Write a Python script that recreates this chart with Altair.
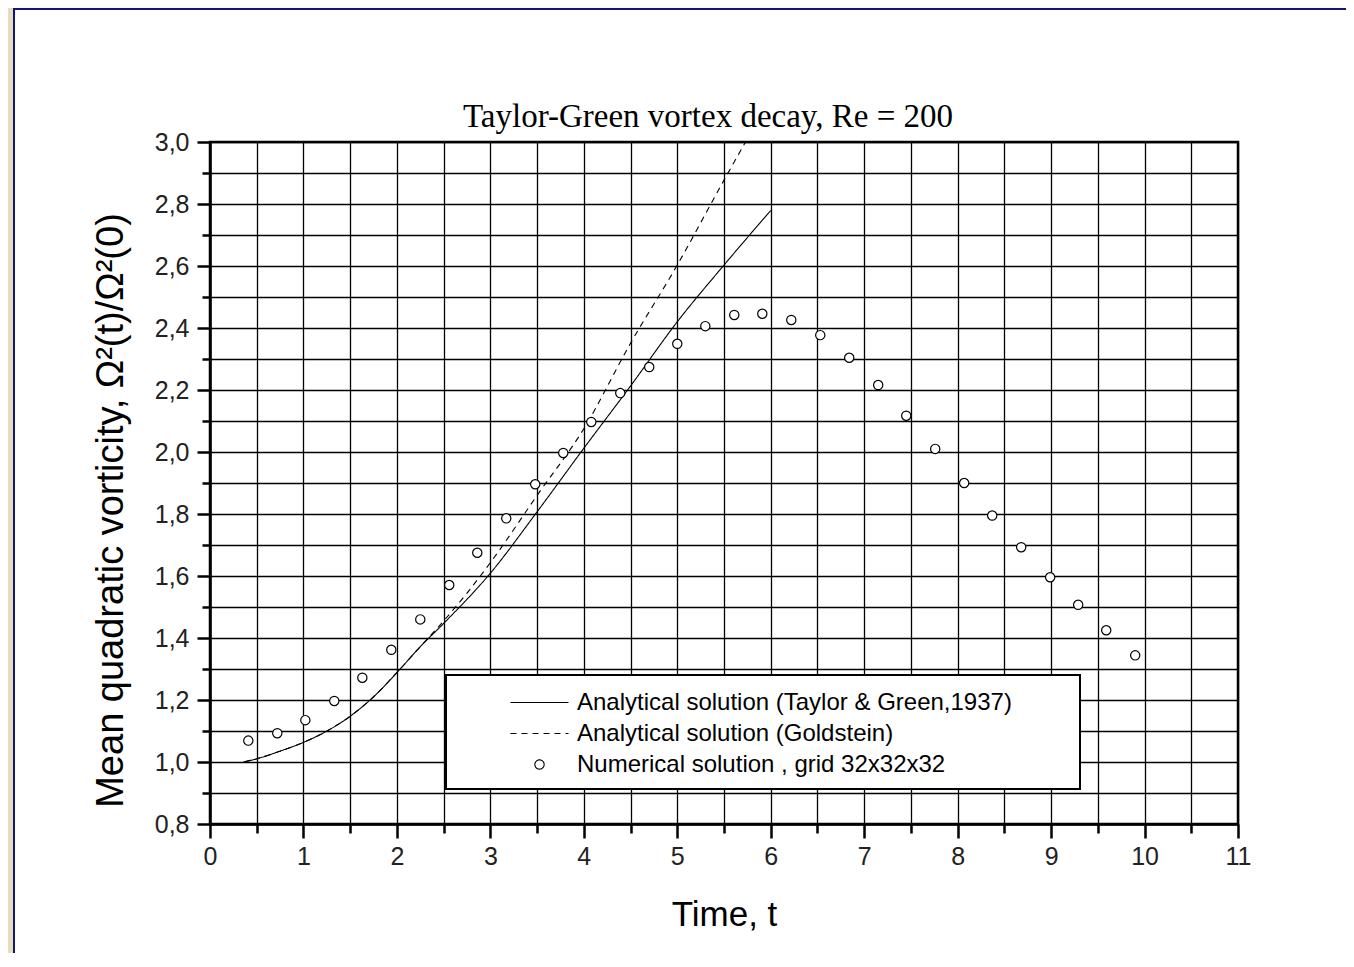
import altair as alt
import pandas as pd

TITLE = "Taylor-Green vortex decay, Re = 200"
X_TITLE = "Time, t"
Y_TITLE = "Mean quadratic vorticity, Ω²(t)/Ω²(0)"
SERIES = [
    "Analytical solution (Taylor & Green,1937)",
    "Analytical solution (Goldstein)",
    "Numerical solution , grid 32x32x32",
]

# Analytical solution (Taylor & Green, 1937) - solid line
TG_T = [0.36, 0.52, 0.75, 1.02, 1.27, 1.52, 1.77, 2.02, 2.25, 2.5, 3.0, 3.5, 4.0, 4.5, 5.0, 5.5, 6.0]
TG_V = [1.0, 1.012, 1.035, 1.066, 1.103, 1.152, 1.216, 1.295, 1.372, 1.447, 1.609, 1.807, 2.012, 2.213, 2.42, 2.603, 2.779]

# Analytical solution (Goldstein) - dashed line
GOLD_T = [0.36, 0.52, 0.75, 1.02, 1.27, 1.52, 1.77, 2.02, 2.25, 2.5, 2.75, 3.0, 3.5, 4.0, 4.5, 5.0, 5.5, 5.73]
GOLD_V = [1.0, 1.012, 1.035, 1.066, 1.103, 1.152, 1.216, 1.295, 1.372, 1.455, 1.545, 1.643, 1.86, 2.075, 2.351, 2.603, 2.877, 3.0]

# Numerical solution, grid 32x32x32 - circles
NUM_T = [0.41, 0.72, 1.02, 1.33, 1.63, 1.94, 2.25, 2.56, 2.86, 3.17, 3.48, 3.78, 4.08, 4.39, 4.70, 5.00,
         5.30, 5.61, 5.91, 6.22, 6.53, 6.84, 7.15, 7.45, 7.76, 8.07, 8.37, 8.68, 8.99, 9.29, 9.59, 9.90]
NUM_V = [1.069, 1.093, 1.135, 1.197, 1.272, 1.362, 1.460, 1.571, 1.675, 1.786, 1.896, 1.997, 2.097, 2.190, 2.274, 2.349,
         2.406, 2.442, 2.446, 2.426, 2.377, 2.304, 2.216, 2.117, 2.010, 1.900, 1.795, 1.693, 1.596, 1.507, 1.425, 1.344]

X_TICKS = [0, 0.5, 1, 1.5, 2, 2.5, 3, 3.5, 4, 4.5, 5, 5.5, 6, 6.5, 7, 7.5, 8, 8.5, 9, 9.5, 10, 10.5, 11]
Y_TICKS = [0.8, 0.9, 1.0, 1.1, 1.2, 1.3, 1.4, 1.5, 1.6, 1.7, 1.8, 1.9, 2.0, 2.1, 2.2, 2.3, 2.4, 2.5,
           2.6, 2.7, 2.8, 2.9, 3.0]

lines_df = pd.DataFrame({
    "t": TG_T + GOLD_T,
    "v": TG_V + GOLD_V,
    "series": [SERIES[0]] * len(TG_T) + [SERIES[1]] * len(GOLD_T),
})
points_df = pd.DataFrame({"t": NUM_T, "v": NUM_V, "series": [SERIES[2]] * len(NUM_T)})

SANS = "Liberation Sans"
LINE_PATH = "M -2 0 L 2 0"
CIRCLE_PATH = "M 0.32 0 A 0.32 0.32 0 1 1 -0.32 0 A 0.32 0.32 0 1 1 0.32 0 Z"

x_axis = alt.Axis(
    values=X_TICKS, title=X_TITLE, grid=True, gridColor="black", gridWidth=1.3, gridOpacity=1,
    domainColor="black", domainWidth=2.5, tickColor="black", tickWidth=2.5,
    tickSize={"condition": {"test": "datum.value % 1 === 0", "value": 14}, "value": 9},
    labelExpr="datum.value % 1 === 0 ? format(datum.value, 'd') : ''",
    labelFont=SANS, labelFontSize=25, labelColor="#222", labelPadding=6,
    labelOverlap=False, labelFlush=False,
    titleFont=SANS, titleFontSize=35, titleFontWeight="normal", titleColor="black",
    titleBaseline="alphabetic", titleY=101,
)
y_axis = alt.Axis(
    values=Y_TICKS, title=Y_TITLE, grid=True, gridColor="black", gridWidth=1.3, gridOpacity=1,
    domainColor="black", domainWidth=2.5, tickColor="black", tickWidth=2.5,
    tickSize={"condition": {"test": "round(datum.value * 10) % 2 === 0", "value": 13}, "value": 8},
    labelExpr="round(datum.value * 10) % 2 === 0 ? replace(format(datum.value, '.1f'), '.', ',') : ''",
    labelFont=SANS, labelFontSize=25, labelColor="#222", labelPadding=8,
    labelOverlap=False, labelFlush=False,
    titleFont=SANS, titleFontSize=38, titleFontWeight="normal", titleColor="black",
    titleAngle=270, titleBaseline="middle", titleAlign="center", titleX=-99, titleY=368,
)

xs = alt.Scale(domain=[0, 11], nice=False, zero=False)
ys = alt.Scale(domain=[0.8, 3.0], nice=False, zero=False)
dash_scale = alt.Scale(domain=SERIES, range=[[1, 0], [6, 5], [1, 0]])
shape_scale = alt.Scale(domain=SERIES, range=[LINE_PATH, LINE_PATH, CIRCLE_PATH])

legend = alt.Legend(
    title=" ", titleOrient="right", titleFontSize=4, titlePadding=56,
    orient="none", legendX=236, legendY=533, direction="vertical",
    fillColor="white", strokeColor="black", padding=12, rowPadding=3, cornerRadius=0,
    symbolSize=841, symbolOffset=66, labelOffset=22, symbolStrokeWidth=1.1,
    labelFont=SANS, labelFontSize=24, labelColor="black", labelLimit=1000,
)

X = alt.X("t:Q", scale=xs, axis=x_axis)
Y = alt.Y("v:Q", scale=ys, axis=y_axis)

deco_data = alt.Data(values=[{}])
strip = alt.Chart(deco_data).mark_rect(color="#e6ddbf").encode(
    x=alt.value(-202), x2=alt.value(-197), y=alt.value(-134), y2=alt.value(811)
)
left_line = alt.Chart(deco_data).mark_rule(color="#14147a", strokeWidth=2).encode(
    x=alt.value(-196), y=alt.value(-134), y2=alt.value(811)
)
top_line = alt.Chart(deco_data).mark_rule(color="#14147a", strokeWidth=2).encode(
    x=alt.value(-197), x2=alt.value(1136), y=alt.value(-133)
)

lines = alt.Chart(lines_df).mark_line(
    color="black", stroke="black", strokeWidth=1.1, interpolate="monotone"
).encode(
    x=X, y=Y,
    strokeDash=alt.StrokeDash("series:N", scale=dash_scale, legend=legend),
)
points = alt.Chart(points_df).mark_point(
    size=841, filled=False, fill="white", stroke="black", strokeWidth=1.2, opacity=1, fillOpacity=1
).encode(
    x=X, y=Y,
    shape=alt.Shape("series:N", scale=shape_scale, legend=legend),
)

chart = alt.layer(strip, left_line, top_line, lines, points).properties(
    width=1028, height=682,
    autosize=alt.AutoSizeParams(type="none"),
    padding={"left": 202, "top": 134, "right": 108, "bottom": 129},
    title=alt.TitleParams(
        TITLE, font="Liberation Serif", fontSize=33, fontWeight="normal", color="black",
        anchor="middle", frame="group", dx=-16, dy=135, offset=8,
    ),
).configure(background="white").configure_view(
    stroke="black", strokeWidth=2.5
).configure_legend(strokeWidth=2)

chart.save("out.html", embed_options={"renderer": "svg", "actions": False})
